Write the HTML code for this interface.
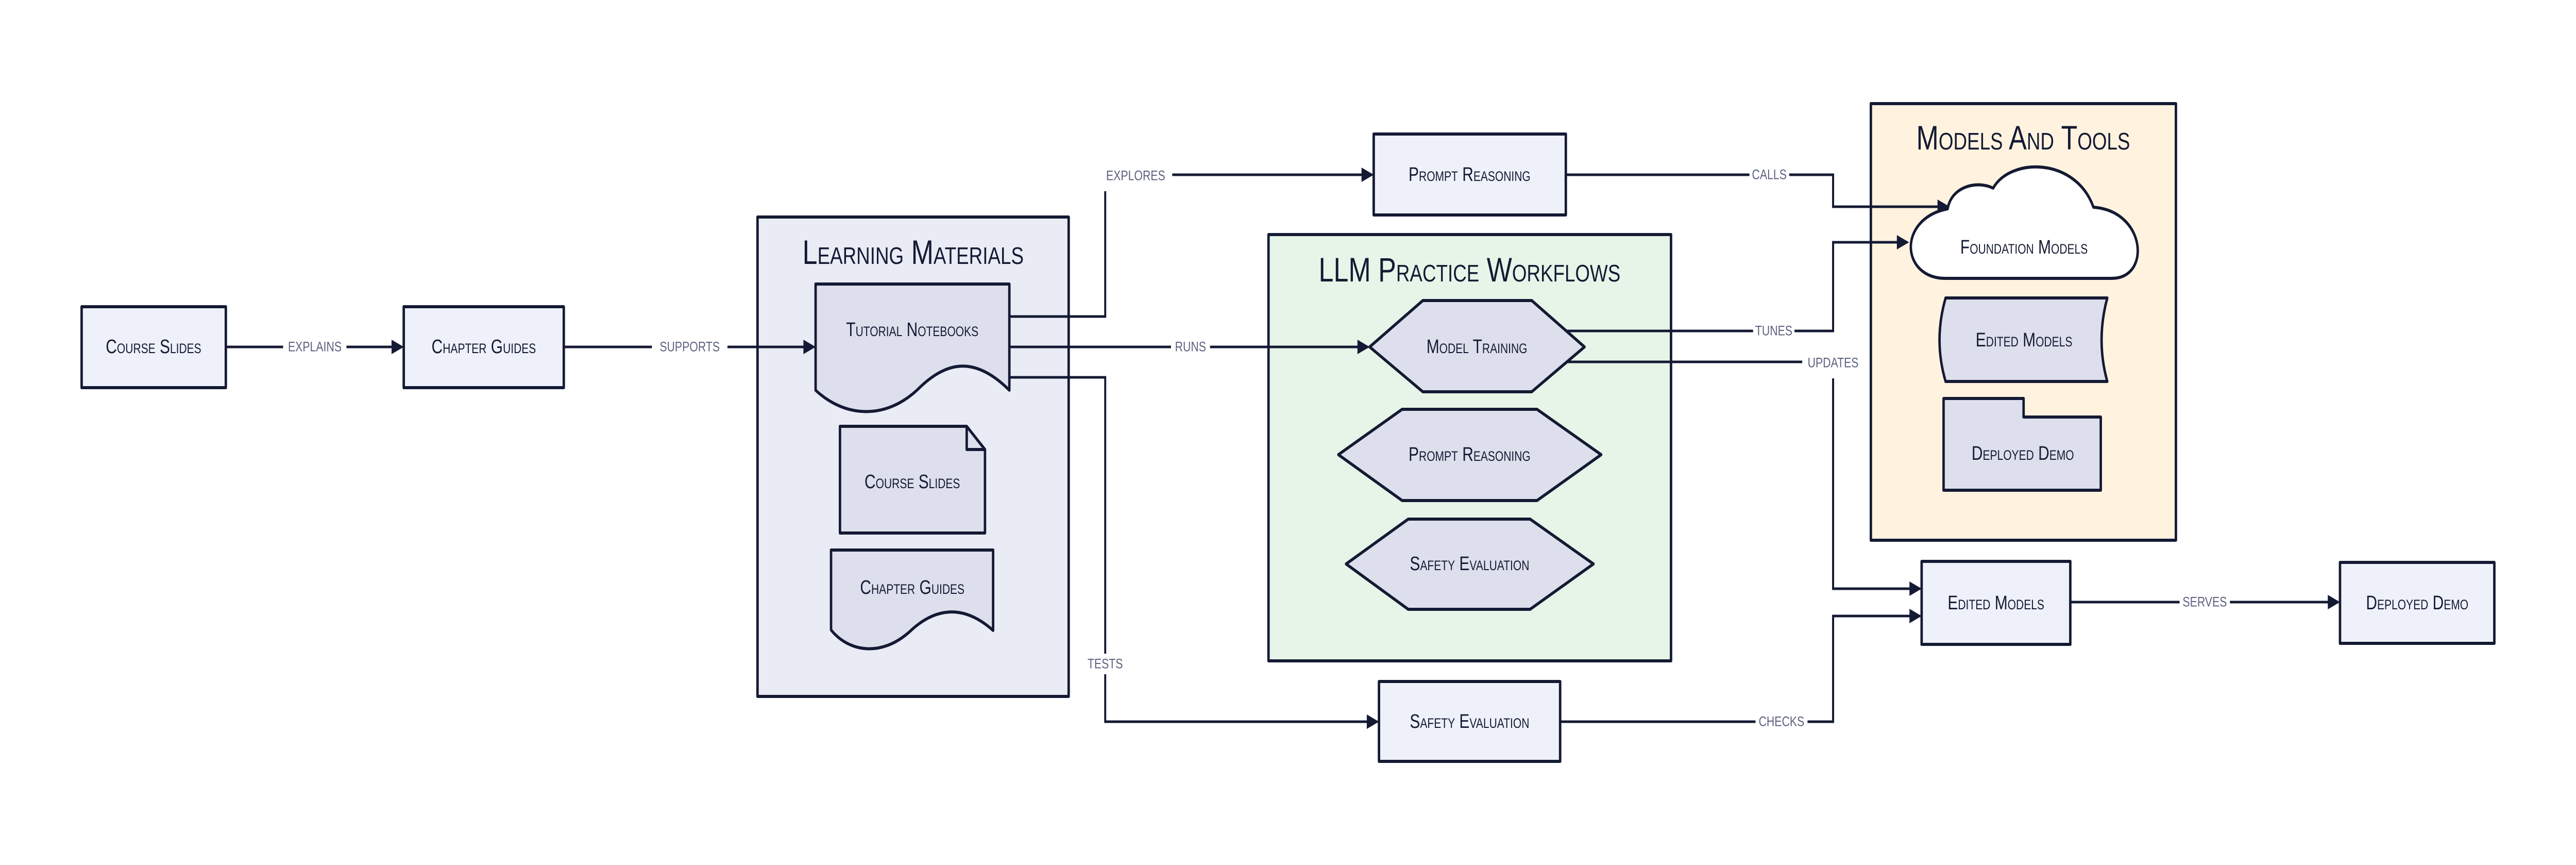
<!DOCTYPE html>
<html><head><meta charset="utf-8"><style>
html,body{margin:0;padding:0;background:#fff;overflow:hidden;width:100%;height:100%;}
svg{display:block;position:absolute;left:0;top:0;width:100vw;height:100vh;}
.n{font-family:"Liberation Sans",sans-serif;font-variant:small-caps;font-size:38px;fill:#141a33;text-anchor:middle;dominant-baseline:central;}
.t{font-family:"Liberation Sans",sans-serif;font-variant:small-caps;font-size:66px;fill:#141a33;text-anchor:middle;dominant-baseline:central;}
.l{font-family:"Liberation Sans",sans-serif;font-size:27px;fill:#5d6280;text-anchor:middle;dominant-baseline:central;}
.s{stroke:#141a33;stroke-width:6;stroke-linejoin:round;}
.c{stroke:#141a33;stroke-width:5;fill:none;}
</style></head><body>
<svg viewBox="0 0 6342 1678" preserveAspectRatio="none" xmlns="http://www.w3.org/2000/svg">

<!-- containers -->
<rect x="1865" y="421" width="766" height="930" fill="#e9ebf5" class="s"/>
<text x="2248" y="489" class="t">Learning Materials</text>
<rect x="3123" y="455" width="991" height="827" fill="#e6f5e8" class="s"/>
<text x="3618" y="523" class="t">LLM Practice Workflows</text>
<rect x="4606" y="201" width="751" height="847" fill="#fff3e0" class="s"/>
<text x="4981" y="267" class="t">Models And Tools</text>

<!-- connectors -->
<g class="c">
<path d="M556,673 H990"/>
<path d="M1388,673 H2004"/>
<path d="M2485,614 H2721 V339 H3378"/>
<path d="M2485,673 H3368"/>
<path d="M2485,732 H2721 V1400 H3391"/>
<path d="M3855,339 H4513 V401 H4796"/>
<path d="M3845,642 H4513 V470 H4696"/>
<path d="M3845,702 H4513 V1142 H4727"/>
<path d="M3841,1400 H4513 V1195 H4727"/>
<path d="M5097,1168 H5757"/>
</g>
<g fill="#141a33">
<path d="M994,673 l-30,-14 v28 z"/>
<path d="M2008,673 l-30,-14 v28 z"/>
<path d="M3382,339 l-30,-14 v28 z"/>
<path d="M3372,673 l-30,-14 v28 z"/>
<path d="M3395,1400 l-30,-14 v28 z"/>
<path d="M4800,401 l-30,-14 v28 z"/>
<path d="M4700,470 l-30,-14 v28 z"/>
<path d="M4731,1142 l-30,-14 v28 z"/>
<path d="M4731,1195 l-30,-14 v28 z"/>
<path d="M5761,1168 l-30,-14 v28 z"/>
</g>
<!-- labels -->
<g>
<rect x="697" y="655" width="156" height="36" fill="#fff"/><text x="775" y="673" class="l">EXPLAINS</text>
<rect x="1605" y="655" width="186" height="36" fill="#fff"/><text x="1698" y="673" class="l">SUPPORTS</text>
<rect x="2706" y="321" width="180" height="50" fill="#fff"/><text x="2796" y="341" class="l">EXPLORES</text>
<rect x="2883" y="655" width="96" height="36" fill="#fff"/><text x="2931" y="673" class="l">RUNS</text>
<rect x="2680" y="1268" width="84" height="40" fill="#fff"/><text x="2721" y="1288" class="l">TESTS</text>
<rect x="4307" y="321" width="98" height="36" fill="#fff"/><text x="4356" y="339" class="l">CALLS</text>
<rect x="4316" y="624" width="102" height="36" fill="#fff"/><text x="4367" y="642" class="l">TUNES</text>
<rect x="4437" y="684" width="153" height="50" fill="#fff"/><text x="4513" y="704" class="l">UPDATES</text>
<rect x="4322" y="1382" width="128" height="36" fill="#fff"/><text x="4386" y="1400" class="l">CHECKS</text>
<rect x="5366" y="1150" width="124" height="36" fill="#fff"/><text x="5428" y="1168" class="l">SERVES</text>
</g>

<!-- plain boxes -->
<rect x="201" y="595" width="355" height="157" fill="#eef1f9" class="s"/>
<text x="378" y="673" class="n">Course Slides</text>
<rect x="994" y="595" width="394" height="157" fill="#eef1f9" class="s"/>
<text x="1191" y="673" class="n">Chapter Guides</text>
<rect x="3382" y="260" width="473" height="157" fill="#eef1f9" class="s"/>
<text x="3618" y="339" class="n">Prompt Reasoning</text>
<rect x="3395" y="1322" width="446" height="155" fill="#eef1f9" class="s"/>
<text x="3618" y="1400" class="n">Safety Evaluation</text>
<rect x="4731" y="1089" width="366" height="161" fill="#eef1f9" class="s"/>
<text x="4914" y="1170" class="n">Edited Models</text>
<rect x="5761" y="1091" width="380" height="157" fill="#eef1f9" class="s"/>
<text x="5951" y="1170" class="n">Deployed Demo</text>

<!-- learning materials shapes -->
<path d="M2008,551 H2485 V757 C2400,690 2330,700 2260,755 C2180,815 2080,810 2008,757 Z" fill="#dde0ec" class="s"/>
<text x="2246" y="640" class="n">Tutorial Notebooks</text>
<path d="M2068,827 H2380 L2425,872 V1034 H2068 Z" fill="#dde0ec" class="s"/>
<path d="M2380,827 V872 H2425" fill="none" class="s"/>
<text x="2246" y="935" class="n">Course Slides</text>
<path d="M2046,1067 H2445 V1223 C2370,1170 2300,1180 2240,1225 C2170,1275 2090,1265 2046,1222 Z" fill="#dde0ec" class="s"/>
<text x="2246" y="1140" class="n">Chapter Guides</text>

<!-- hexagons -->
<path d="M3372,673 L3503,583 H3771 L3901,673 L3771,760 H3503 Z" fill="#dde0ec" class="s"/>
<text x="3636" y="673" class="n">Model Training</text>
<path d="M3295,882 L3452,794 H3784 L3942,882 L3784,971 H3452 Z" fill="#dde0ec" class="s"/>
<text x="3618" y="882" class="n">Prompt Reasoning</text>
<path d="M3314,1094 L3467,1007 H3767 L3923,1094 L3767,1182 H3467 Z" fill="#dde0ec" class="s"/>
<text x="3618" y="1094" class="n">Safety Evaluation</text>

<!-- models shapes -->
<path d="M4790,540 C4680,540 4670,425 4795,405 C4805,360 4870,350 4907,365 C4950,305 5110,305 5154,402 C5285,410 5295,540 5200,540 Z" fill="#fff" class="s"/>
<text x="4983" y="480" class="n">Foundation Models</text>
<path d="M4790,578 H5188 Q5160,660 5188,740 H4790 Q4760,660 4790,578 Z" fill="#dde0ec" class="s"/>
<text x="4983" y="660" class="n">Edited Models</text>
<path d="M4785,773 H4982 V809 H5172 V951 H4785 Z" fill="#dde0ec" class="s"/>
<text x="4980" y="880" class="n">Deployed Demo</text>
</svg>
</body></html>
